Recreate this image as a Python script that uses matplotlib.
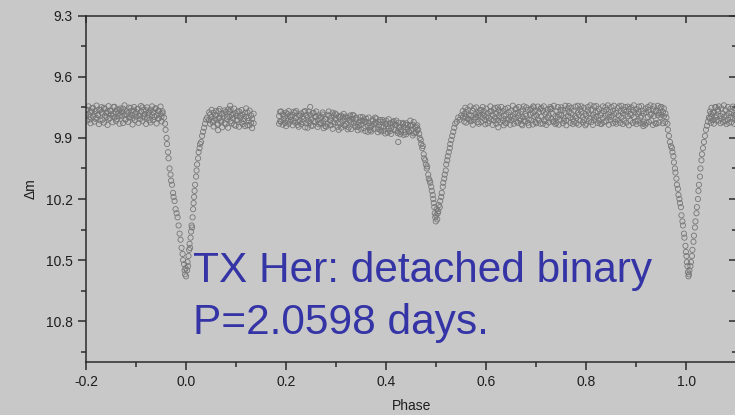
import matplotlib
matplotlib.use("Agg")
import matplotlib.pyplot as plt

# light curve of TX Her
phase_a = [-0.200, -0.198, -0.195, -0.193, -0.191, -0.188, -0.186, -0.183, -0.181, -0.179,
           -0.176, -0.174, -0.171, -0.169, -0.167, -0.164, -0.162, -0.159, -0.157, -0.155,
           -0.152, -0.150, -0.147, -0.145, -0.143, -0.140, -0.138, -0.135, -0.133, -0.131,
           -0.128, -0.126, -0.123, -0.121, -0.119, -0.116, -0.114, -0.111, -0.109, -0.107,
           -0.104, -0.102, -0.099, -0.097, -0.095, -0.092, -0.090, -0.087, -0.085, -0.083,
           -0.080, -0.078, -0.075, -0.073, -0.071, -0.068, -0.066, -0.063, -0.061, -0.059,
           -0.056, -0.054, -0.051, -0.049, -0.047]
mag_a = [9.792, 9.762, 9.785, 9.810, 9.772, 9.755, 9.795, 9.782, 9.768, 9.802,
         9.788, 9.760, 9.815, 9.775, 9.780, 9.752, 9.790, 9.798, 9.770, 9.806,
         9.765, 9.784, 9.792, 9.748, 9.800, 9.774, 9.808, 9.778, 9.762, 9.789,
         9.794, 9.756, 9.786, 9.811, 9.769, 9.777, 9.799, 9.753, 9.787, 9.804,
         9.766, 9.781, 9.796, 9.759, 9.791, 9.807, 9.771, 9.750, 9.793, 9.783,
         9.764, 9.801, 9.776, 9.813, 9.761, 9.788, 9.773, 9.797, 9.754, 9.790,
         9.805, 9.767, 9.782, 9.795, 9.770]
mag_a2 = [9.760, 9.815, 9.745, 9.798, 9.828, 9.770, 9.752, 9.820, 9.806, 9.741,
          9.787, 9.832, 9.763, 9.749, 9.811, 9.825, 9.758, 9.777, 9.836, 9.744,
          9.803, 9.768, 9.823, 9.781, 9.747, 9.817, 9.760, 9.793, 9.830, 9.755,
          9.772, 9.827, 9.740, 9.809, 9.784, 9.821, 9.751, 9.798, 9.766, 9.834,
          9.748, 9.813, 9.774, 9.757, 9.826, 9.790, 9.743, 9.818, 9.762, 9.800,
          9.831, 9.750, 9.786, 9.771, 9.824, 9.745, 9.812, 9.797, 9.759, 9.829,
          9.767, 9.804, 9.746, 9.819, 9.779]

phase_min1 = [-0.044, -0.042, -0.041, -0.039, -0.038, -0.036, -0.035, -0.033, -0.031, -0.030,
              -0.028, -0.026, -0.025, -0.023, -0.021, -0.019, -0.017, -0.015, -0.013, -0.011,
              -0.009, -0.007, -0.006, -0.004, -0.003, -0.002, -0.001, 0.000,
              0.002, 0.003, 0.004, 0.005, 0.006, 0.007, 0.008, 0.009, 0.010, 0.011,
              0.012, 0.013, 0.014, 0.015, 0.016, 0.017, 0.018, 0.020, 0.021, 0.022,
              0.024, 0.025, 0.027, 0.028, 0.030, 0.032, 0.034, 0.036, 0.038, 0.040, 0.042]
mag_min1 = [9.80, 9.83, 9.86, 9.90, 9.93, 9.97, 10.00, 10.05, 10.08, 10.11,
            10.13, 10.17, 10.19, 10.21, 10.25, 10.27, 10.29, 10.33, 10.37, 10.40,
            10.44, 10.47, 10.50, 10.52, 10.55, 10.57, 10.54, 10.58,
            10.55, 10.51, 10.53, 10.48, 10.45, 10.42, 10.44, 10.39, 10.36, 10.33,
            10.34, 10.29, 10.25, 10.22, 10.19, 10.16, 10.13, 10.09, 10.06, 10.03,
            10.00, 9.97, 9.95, 9.93, 9.92, 9.89, 9.87, 9.85, 9.83, 9.81, 9.80]

phase_b = [0.046, 0.048, 0.051, 0.053, 0.055, 0.058, 0.060, 0.063, 0.065, 0.067,
           0.070, 0.072, 0.075, 0.077, 0.079, 0.082, 0.084, 0.087, 0.089, 0.091,
           0.094, 0.096, 0.099, 0.101, 0.103, 0.106, 0.108, 0.111, 0.113, 0.115,
           0.118, 0.120, 0.123, 0.125, 0.127, 0.130, 0.132, 0.135]
mag_b = [9.812, 9.785, 9.798, 9.823, 9.776, 9.805, 9.790, 9.830, 9.768, 9.801,
         9.815, 9.782, 9.794, 9.826, 9.773, 9.808, 9.760, 9.797, 9.818, 9.787,
         9.803, 9.835, 9.779, 9.792, 9.811, 9.770, 9.800, 9.824, 9.786, 9.807,
         9.842, 9.795, 9.775, 9.816, 9.838, 9.790, 9.806, 9.828]
mag_b2 = [9.775, 9.830, 9.762, 9.815, 9.844, 9.787, 9.768, 9.836, 9.805, 9.758,
          9.822, 9.848, 9.780, 9.765, 9.833, 9.796, 9.850, 9.772, 9.760, 9.828,
          9.784, 9.756, 9.840, 9.811, 9.770, 9.845, 9.790, 9.763, 9.832, 9.818,
          9.776, 9.755, 9.838, 9.802, 9.766, 9.826, 9.852, 9.781]

phase_c = [0.186, 0.188,
           0.190, 0.193, 0.195, 0.198, 0.200, 0.203, 0.205, 0.208, 0.210, 0.213, 0.215, 0.218,
           0.220, 0.223, 0.225, 0.228, 0.230, 0.233, 0.235, 0.238, 0.240, 0.243, 0.245, 0.248,
           0.250, 0.253, 0.255, 0.258, 0.260, 0.263, 0.265, 0.268, 0.270, 0.273, 0.275, 0.278,
           0.280, 0.283, 0.285, 0.288, 0.290, 0.293, 0.295, 0.298, 0.300, 0.303, 0.305, 0.308,
           0.310, 0.313, 0.315, 0.318, 0.320, 0.323, 0.325, 0.328, 0.330, 0.333, 0.335, 0.338,
           0.340, 0.343, 0.345, 0.348, 0.350, 0.353, 0.355, 0.358, 0.360, 0.363, 0.365, 0.368,
           0.370, 0.373, 0.375, 0.378, 0.380, 0.383, 0.385, 0.388, 0.390, 0.393, 0.395, 0.398,
           0.400, 0.403, 0.405, 0.408, 0.410, 0.413, 0.415, 0.418, 0.420, 0.423, 0.425, 0.428,
           0.430, 0.433, 0.435, 0.438, 0.440, 0.443, 0.445, 0.448, 0.450, 0.453, 0.455, 0.458,
           0.460, 0.462]
mag_c = [9.792, 9.818,
         9.820, 9.784, 9.808, 9.795, 9.776, 9.815, 9.830, 9.798, 9.812, 9.788, 9.772, 9.825,
         9.803, 9.836, 9.790, 9.815, 9.780, 9.822, 9.806, 9.768, 9.828, 9.799, 9.817, 9.786,
         9.809, 9.840, 9.777, 9.821, 9.795, 9.812, 9.833, 9.801, 9.826, 9.785, 9.818, 9.842,
         9.807, 9.830, 9.792, 9.815, 9.838, 9.776, 9.823, 9.804, 9.812, 9.845, 9.797, 9.829,
         9.790, 9.818, 9.836, 9.808, 9.832, 9.801, 9.849, 9.815, 9.822, 9.787, 9.828, 9.840,
         9.810, 9.846, 9.825, 9.798, 9.835, 9.816, 9.852, 9.822, 9.805, 9.839, 9.828, 9.861,
         9.843, 9.818, 9.833, 9.800, 9.826, 9.856, 9.838, 9.812, 9.847, 9.821, 9.865, 9.832,
         9.815, 9.842, 9.855, 9.828, 9.851, 9.830, 9.818, 9.862, 9.836, 9.868, 9.825, 9.848,
         9.859, 9.832, 9.845, 9.872, 9.828, 9.855, 9.866, 9.840, 9.862, 9.835, 9.878, 9.850,
         9.845, 9.860]
mag_c2 = [9.830, 9.772,
          9.770, 9.835, 9.790, 9.826, 9.842, 9.783, 9.768, 9.820, 9.795, 9.838, 9.815, 9.776,
          9.768, 9.820, 9.845, 9.790, 9.832, 9.795, 9.772, 9.848, 9.788, 9.850, 9.770, 9.826,
          9.840, 9.778, 9.818, 9.795, 9.770, 9.846, 9.790, 9.828, 9.795, 9.775, 9.852, 9.808,
          9.845, 9.786, 9.770, 9.835, 9.800, 9.855, 9.790, 9.780, 9.785, 9.828, 9.860, 9.796,
          9.850, 9.800, 9.782, 9.842, 9.795, 9.858, 9.812, 9.790, 9.856, 9.805, 9.790, 9.845,
          9.800, 9.862, 9.838, 9.815, 9.858, 9.798, 9.810, 9.866, 9.822, 9.870, 9.800, 9.848,
          9.868, 9.810, 9.856, 9.825, 9.805, 9.872, 9.822, 9.860, 9.868, 9.812, 9.845, 9.878,
          9.830, 9.874, 9.808, 9.866, 9.880, 9.822, 9.858, 9.835, 9.815, 9.876, 9.845, 9.882,
          9.872, 9.826, 9.885, 9.835, 9.882, 9.836, 9.870, 9.815, 9.838, 9.888, 9.822, 9.876,
          9.872, 9.838]

phase_min2 = [0.464, 0.466, 0.467, 0.469, 0.470, 0.472, 0.473, 0.475, 0.476, 0.478,
              0.479, 0.481, 0.482, 0.484, 0.485, 0.487, 0.488, 0.490, 0.491, 0.493,
              0.494, 0.495, 0.496, 0.497, 0.498, 0.499, 0.500, 0.501, 0.502, 0.503,
              0.504, 0.505, 0.507, 0.508, 0.510, 0.511, 0.513, 0.514, 0.516, 0.517,
              0.519, 0.520, 0.522, 0.523, 0.525, 0.527, 0.528, 0.530, 0.532, 0.534,
              0.536, 0.538, 0.541, 0.544, 0.547, 0.550]
mag_min2 = [9.86, 9.88, 9.90, 9.91, 9.93, 9.95, 9.94, 9.98, 10.00, 10.01,
            10.03, 10.05, 10.04, 10.08, 10.10, 10.11, 10.12, 10.14, 10.16, 10.18,
            10.20, 10.22, 10.24, 10.27, 10.29, 10.31, 10.28, 10.25, 10.30, 10.27,
            10.26, 10.23, 10.24, 10.21, 10.19, 10.17, 10.14, 10.12, 10.10, 10.08,
            10.06, 10.03, 10.01, 9.99, 9.97, 9.95, 9.93, 9.91, 9.89, 9.87,
            9.85, 9.83, 9.82, 9.80, 9.81, 9.79]

phase_d = [0.553, 0.556, 0.558,
           0.560, 0.563, 0.565, 0.568, 0.570, 0.573, 0.575, 0.578, 0.580, 0.583, 0.585, 0.588,
           0.590, 0.593, 0.595, 0.598, 0.600, 0.603, 0.605, 0.608, 0.610, 0.613, 0.615, 0.618,
           0.620, 0.623, 0.625, 0.628, 0.630, 0.633, 0.635, 0.638, 0.640, 0.643, 0.645, 0.648,
           0.650, 0.653, 0.655, 0.658, 0.660, 0.663, 0.665, 0.668, 0.670, 0.673, 0.675, 0.678,
           0.680, 0.683, 0.685, 0.688, 0.690, 0.693, 0.695, 0.698, 0.700, 0.703, 0.705, 0.708,
           0.710, 0.713, 0.715, 0.718, 0.720, 0.723, 0.725, 0.728, 0.730, 0.733, 0.735, 0.738,
           0.740, 0.743, 0.745, 0.748, 0.750, 0.753, 0.755, 0.758, 0.760, 0.763, 0.765, 0.768,
           0.770, 0.773, 0.775, 0.778, 0.780, 0.783, 0.785, 0.788, 0.790, 0.793, 0.795, 0.798,
           0.800, 0.803, 0.805, 0.808, 0.810, 0.813, 0.815, 0.818, 0.820, 0.823, 0.825, 0.828,
           0.830, 0.833, 0.835, 0.838, 0.840, 0.843, 0.845, 0.848, 0.850, 0.853, 0.855, 0.858,
           0.860, 0.863, 0.865, 0.868, 0.870, 0.873, 0.875, 0.878, 0.880, 0.883, 0.885, 0.888,
           0.890, 0.893, 0.895, 0.898, 0.900, 0.903, 0.905, 0.908, 0.910, 0.913, 0.915, 0.918,
           0.920, 0.923, 0.925, 0.928, 0.930, 0.933, 0.935, 0.938, 0.940, 0.943, 0.945, 0.948,
           0.950, 0.953, 0.955, 0.958]
mag_d = [9.800, 9.782, 9.795,
         9.772, 9.805, 9.788, 9.815, 9.790, 9.768, 9.810, 9.783, 9.798, 9.822, 9.776, 9.792,
         9.764, 9.801, 9.786, 9.812, 9.795, 9.779, 9.818, 9.770, 9.808, 9.787, 9.760, 9.799,
         9.781, 9.814, 9.793, 9.775, 9.803, 9.769, 9.790, 9.826, 9.785, 9.811, 9.773, 9.797,
         9.766, 9.794, 9.807, 9.780, 9.820, 9.777, 9.789, 9.804, 9.771, 9.798, 9.816, 9.783,
         9.792, 9.762, 9.809, 9.786, 9.813, 9.778, 9.795, 9.768, 9.788, 9.805, 9.774, 9.830,
         9.796, 9.767, 9.812, 9.784, 9.775, 9.801, 9.790, 9.758, 9.806, 9.782, 9.819, 9.793,
         9.770, 9.797, 9.785, 9.810, 9.789, 9.763, 9.803, 9.776, 9.815, 9.791, 9.772, 9.799,
         9.780, 9.808, 9.766, 9.794, 9.802, 9.775, 9.787, 9.760, 9.771, 9.798, 9.812, 9.783,
         9.790, 9.765, 9.779, 9.805, 9.762, 9.786, 9.800, 9.774, 9.796, 9.770, 9.757, 9.789,
         9.778, 9.803, 9.768, 9.792, 9.761, 9.784, 9.799, 9.773, 9.795, 9.767, 9.781, 9.808,
         9.776, 9.754, 9.790, 9.769, 9.801, 9.779, 9.763, 9.786, 9.770, 9.793, 9.758, 9.782,
         9.788, 9.765, 9.797, 9.775, 9.759, 9.783, 9.772, 9.800, 9.791, 9.768, 9.780, 9.756,
         9.774, 9.796, 9.762, 9.787, 9.783, 9.760, 9.792, 9.771, 9.766, 9.789, 9.777, 9.798,
         9.785, 9.772, 9.794, 9.780]
mag_d2 = [9.768, 9.820, 9.752,
          9.825, 9.760, 9.808, 9.745, 9.818, 9.835, 9.755, 9.800, 9.750, 9.790, 9.830, 9.762,
          9.822, 9.748, 9.768, 9.833, 9.756, 9.828, 9.802, 9.745, 9.770, 9.836, 9.815, 9.752,
          9.830, 9.750, 9.764, 9.822, 9.748, 9.815, 9.838, 9.758, 9.828, 9.752, 9.805, 9.835,
          9.812, 9.742, 9.830, 9.760, 9.755, 9.826, 9.748, 9.815, 9.832, 9.760, 9.745, 9.820,
          9.750, 9.825, 9.838, 9.762, 9.756, 9.834, 9.750, 9.822, 9.828, 9.746, 9.815, 9.758,
          9.752, 9.830, 9.745, 9.818, 9.836, 9.760, 9.824, 9.748, 9.755, 9.820, 9.742, 9.832,
          9.826, 9.748, 9.835, 9.762, 9.750, 9.828, 9.815, 9.742, 9.838, 9.755, 9.744, 9.826,
          9.752, 9.832, 9.820, 9.746, 9.828, 9.742, 9.835, 9.815, 9.745, 9.824, 9.752, 9.838,
          9.830, 9.748, 9.818, 9.740, 9.822, 9.836, 9.745, 9.810, 9.744, 9.826, 9.815, 9.830,
          9.832, 9.745, 9.822, 9.750, 9.818, 9.740, 9.835, 9.812, 9.748, 9.828, 9.742, 9.822,
          9.830, 9.812, 9.745, 9.826, 9.742, 9.832, 9.815, 9.748, 9.825, 9.746, 9.838, 9.816,
          9.750, 9.826, 9.740, 9.820, 9.832, 9.815, 9.746, 9.828, 9.744, 9.830, 9.820, 9.835,
          9.826, 9.748, 9.822, 9.740, 9.815, 9.836, 9.745, 9.828, 9.830, 9.742, 9.825, 9.750,
          9.748, 9.828, 9.755, 9.822]

phase_min3 = [0.960, 0.962, 0.963, 0.965, 0.967, 0.969, 0.971, 0.972, 0.974, 0.975,
              0.977, 0.978, 0.980, 0.981, 0.983, 0.984, 0.986, 0.987, 0.989, 0.990,
              0.992, 0.993, 0.995, 0.996, 0.998, 0.999, 1.000, 1.001, 1.002, 1.003,
              1.004, 1.005, 1.006, 1.008, 1.009, 1.011, 1.012, 1.014, 1.015, 1.017,
              1.018, 1.020, 1.021, 1.023, 1.024, 1.025, 1.027, 1.028, 1.030, 1.031,
              1.033, 1.035, 1.037, 1.039, 1.041, 1.043, 1.045]
mag_min3 = [9.80, 9.83, 9.86, 9.89, 9.92, 9.94, 9.95, 9.97, 9.99, 10.02,
            10.05, 10.07, 10.10, 10.13, 10.15, 10.18, 10.20, 10.22, 10.24, 10.28,
            10.31, 10.33, 10.37, 10.39, 10.43, 10.46, 10.48, 10.51, 10.53, 10.56,
            10.58, 10.57, 10.55, 10.53, 10.51, 10.48, 10.45, 10.41, 10.38, 10.34,
            10.31, 10.27, 10.24, 10.20, 10.16, 10.13, 10.09, 10.05, 10.01, 9.98,
            9.95, 9.92, 9.89, 9.86, 9.84, 9.82, 9.80]

phase_e = [1.047, 1.049, 1.050, 1.053, 1.055, 1.058, 1.060, 1.063, 1.065, 1.068,
           1.070, 1.073, 1.075, 1.078, 1.080, 1.083, 1.085, 1.088, 1.090, 1.093,
           1.095, 1.098, 1.100]
mag_e = [9.805, 9.782, 9.795, 9.812, 9.776, 9.800, 9.788, 9.770, 9.815, 9.792,
         9.806, 9.781, 9.796, 9.764, 9.790, 9.810, 9.778, 9.798, 9.772, 9.803,
         9.786, 9.794, 9.785]
mag_e2 = [9.770, 9.825, 9.752, 9.776, 9.830, 9.748, 9.815, 9.760, 9.745, 9.828,
          9.755, 9.822, 9.740, 9.818, 9.832, 9.748, 9.826, 9.758, 9.822, 9.746,
          9.830, 9.752, 9.815]

phase_odd = [0.064, 0.088, 0.248, 0.424, 0.624, 0.672, 0.694, 0.914, 1.058]
mag_odd = [9.862, 9.742, 9.748, 9.920, 9.848, 9.838, 9.745, 9.842, 9.750]

x_ticks = [-0.2, 0.0, 0.2, 0.4, 0.6, 0.8, 1.0]
x_labels = ["-0.2", "0.0", "0.2", "0.4", "0.6", "0.8", "1.0"]
x_minor = [-0.1, 0.1, 0.3, 0.5, 0.7, 0.9, 1.1]
y_ticks = [9.3, 9.6, 9.9, 10.2, 10.5, 10.8]
y_labels = ["9.3", "9.6", "9.9", "10.2", "10.5", "10.8"]
y_minor = [9.45, 9.75, 10.05, 10.35, 10.65, 10.95]

pairs = [(phase_a, mag_a), (phase_a, mag_a2), (phase_min1, mag_min1),
         (phase_b, mag_b), (phase_b, mag_b2), (phase_c, mag_c), (phase_c, mag_c2),
         (phase_min2, mag_min2), (phase_d, mag_d), (phase_d, mag_d2),
         (phase_min3, mag_min3), (phase_e, mag_e), (phase_e, mag_e2),
         (phase_odd, mag_odd)]
phase = []
mag = []
for p, m in pairs:
    n = min(len(p), len(m))
    phase += p[:n]
    mag += m[:n]

plt.rcParams["font.family"] = ["Liberation Sans", "DejaVu Sans"]
bg = "#c8c8c8"
ink = "#2b2b2b"

fig = plt.figure(figsize=(7.35, 4.15), dpi=100, facecolor=bg)
ax = fig.add_axes([0.117, 0.128, 0.885, 0.834])
ax.set_facecolor(bg)

ax.scatter(phase, mag, s=14, facecolors="none", edgecolors="#767676", linewidths=0.6)

ax.set_xlim(-0.2, 1.1)
ax.set_ylim(11.0, 9.3)
ax.set_xticks(x_ticks)
ax.set_xticklabels(x_labels)
ax.set_xticks(x_minor, minor=True)
ax.set_yticks(y_ticks)
ax.set_yticklabels(y_labels)
ax.set_yticks(y_minor, minor=True)

for s in ax.spines.values():
    s.set_color(ink)
    s.set_linewidth(1.1)

ax.tick_params(which="both", direction="out", color=ink, width=1.1, labelsize=10, labelcolor="#1e1e1e", pad=4)
ax.tick_params(which="major", length=5.5)
ax.tick_params(which="minor", length=3.5)

# top and right ticks point inwards
top = ax.secondary_xaxis("top")
top.set_xticks(x_ticks)
top.set_xticks(x_minor, minor=True)
top.tick_params(which="both", direction="in", color=ink, width=1.1, labeltop=False)
top.tick_params(which="major", length=5)
top.tick_params(which="minor", length=3)
top.spines["top"].set_visible(False)

right = ax.secondary_yaxis("right")
right.set_yticks(y_ticks)
right.set_yticks(y_minor, minor=True)
right.tick_params(which="both", direction="in", color=ink, width=1.1, labelright=False)
right.tick_params(which="major", length=5)
right.tick_params(which="minor", length=3)
right.spines["right"].set_visible(False)

ax.set_xlabel("Phase", fontsize=10, color="#1e1e1e", labelpad=7)
ax.set_ylabel("\u0394m", fontsize=10, color="#1e1e1e", labelpad=6)

blue = "#3434a6"
ax.text(0.014, 10.609, "TX Her: detached binary", color=blue, fontsize=30.5, va="baseline")
ax.text(0.014, 10.864, "P=2.0598 days.", color=blue, fontsize=30.5, va="baseline")

fig.savefig("out.png", dpi=100, facecolor=bg)
